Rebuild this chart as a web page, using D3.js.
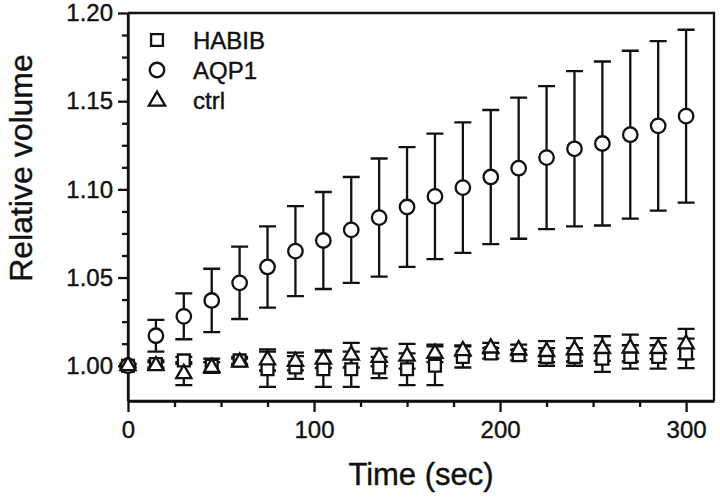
<!DOCTYPE html>
<html>
<head>
<meta charset="utf-8">
<script src="https://cdn.jsdelivr.net/npm/d3@7"></script>
<style>
  html, body { margin: 0; padding: 0; background: #fff; }
  svg { display: block; }
  text { font-family: "Liberation Sans", Arial, Helvetica, sans-serif; fill: #111; stroke: #111; stroke-width: 0.4px; }
</style>
</head>
<body>
<svg id="chart" width="720" height="498"></svg>
<script>
// ---- data ----
const time = [0, 15, 30, 45, 60, 75, 90, 105, 120, 135, 150, 165, 180, 195, 210, 225, 240, 255, 270, 285, 300];

const aqp1    = [1.000, 1.017, 1.028, 1.037, 1.047, 1.056, 1.065, 1.071, 1.077, 1.084, 1.090, 1.096, 1.101, 1.107, 1.112, 1.118, 1.123, 1.126, 1.131, 1.136, 1.1415];
const aqp1Err = [0.000, 0.009, 0.013, 0.018, 0.0205, 0.023, 0.0255, 0.0275, 0.030, 0.0335, 0.034, 0.0356, 0.037, 0.038, 0.040, 0.0405, 0.044, 0.0465, 0.0476, 0.048, 0.049];

const habib    = [1.000, 1.001, 1.003, 1.000, 1.003, 0.998, 0.999, 0.998, 0.998, 0.999, 0.998, 1.000, 1.005, 1.007, 1.006, 1.005, 1.005, 1.004, 1.005, 1.005, 1.007];
const habibErr = [0.001, 0.002, 0.002, 0.004, 0.002, 0.010, 0.0065, 0.010, 0.010, 0.006, 0.009, 0.011, 0.006, 0.003, 0.003, 0.005, 0.005, 0.0075, 0.0066, 0.0066, 0.0084];

const ctrl    = [1.000, 1.000, 0.9955, 0.999, 1.002, 1.0033, 1.0024, 1.0037, 1.006, 1.0047, 1.0054, 1.007, 1.0085, 1.010, 1.009, 1.008, 1.009, 1.0097, 1.010, 1.0097, 1.0123];
const ctrlErr = [0.001, 0.002, 0.0065, 0.003, 0.002, 0.006, 0.005, 0.005, 0.007, 0.005, 0.007, 0.005, 0.003, 0.003, 0.003, 0.006, 0.0066, 0.007, 0.0076, 0.006, 0.0086];

const seriesNames = ["HABIB", "AQP1", "ctrl"];
const xMajorTicks = [0, 100, 200, 300];
const yMajorTicks = [1.00, 1.05, 1.10, 1.15, 1.20];
const xTitle = "Time (sec)";
const yTitle = "Relative volume";

// ---- layout ----
const svg = d3.select("#chart");
const pL = 128, pR = 714, pT = 13, pB = 401;

const x = d3.scaleLinear().domain([0, 315]).range([pL, pR]);
const y = d3.scaleLinear().domain([0.98, 1.20]).range([pB, pT]);

const xMinor = d3.range(0, 301, 25).filter(v => v % 100 !== 0);
const yMinor = d3.range(0, 17).map(i => 1.00 + i * 0.0125).filter((v, i) => i % 4 !== 0);

const fontLabel = "24px";
const lw = 2.3;

// frame (top + right)
svg.append("path")
  .attr("d", `M${pL},${pT}H${pR}V${pB}`)
  .attr("fill", "none").attr("stroke", "#111").attr("stroke-width", lw);

// y axis
const gy = svg.append("g").attr("transform", `translate(${pL},0)`)
  .call(d3.axisLeft(y).tickValues(yMajorTicks).tickFormat(d3.format(".2f")).tickSize(10).tickSizeOuter(0).tickPadding(5));
const gyMinor = svg.append("g").attr("transform", `translate(${pL},0)`)
  .call(d3.axisLeft(y).tickValues(yMinor).tickFormat("").tickSize(6).tickSizeOuter(0));

// x axis
const gx = svg.append("g").attr("transform", `translate(0,${pB})`)
  .call(d3.axisBottom(x).tickValues(xMajorTicks).tickFormat(d3.format("d")).tickSize(11).tickSizeOuter(0).tickPadding(9));
const gxMinor = svg.append("g").attr("transform", `translate(0,${pB})`)
  .call(d3.axisBottom(x).tickValues(xMinor).tickFormat("").tickSize(6).tickSizeOuter(0));

[gy, gyMinor, gx, gxMinor].forEach(g => {
  g.select(".domain").attr("stroke", "#111").attr("stroke-width", lw);
  g.selectAll(".tick line").attr("stroke", "#111").attr("stroke-width", lw);
  g.selectAll(".tick text").attr("font-size", fontLabel).attr("fill", "#111")
    .attr("font-family", '"Liberation Sans", Arial, sans-serif');
});
gy.select(".domain").attr("d", `M0,${pB}V${pT}`);
gx.select(".domain").attr("d", `M${pL},0H${pR}`);

// titles
svg.append("text")
  .attr("x", (pL + pR) / 2).attr("y", 485)
  .attr("text-anchor", "middle").attr("font-size", "31px")
  .text(xTitle);
svg.append("text")
  .attr("transform", "translate(32,168) rotate(-90)")
  .attr("text-anchor", "middle").attr("font-size", "32px")
  .text(yTitle);

// ---- data marks ----
const series = [
  { name: seriesNames[0], vals: habib, errs: habibErr, sym: d3.symbolSquare, size: 140 },
  { name: seriesNames[1], vals: aqp1, errs: aqp1Err, sym: d3.symbolCircle, size: 165 },
  { name: seriesNames[2], vals: ctrl, errs: ctrlErr, sym: d3.symbolTriangle, size: 100 }
];

const capW = 8.5;
const gErr = svg.append("g").attr("stroke", "#111").attr("stroke-width", lw).attr("fill", "none");
series.forEach(s => {
  time.forEach((t, i) => {
    const e = s.errs[i];
    if (!e) return;
    const cx = x(t), y1 = y(s.vals[i] + e), y0 = y(s.vals[i] - e);
    gErr.append("path")
      .attr("d", `M${cx},${y0}V${y1}M${cx - capW},${y1}H${cx + capW}M${cx - capW},${y0}H${cx + capW}`);
  });
});

series.forEach(s => {
  const g = svg.append("g");
  g.selectAll("path").data(time.map((t, i) => [t, s.vals[i]])).join("path")
    .attr("transform", d => `translate(${x(d[0])},${y(d[1])})`)
    .attr("d", d3.symbol(s.sym, s.size)())
    .attr("fill", "#fff").attr("stroke", "#111").attr("stroke-width", lw);
});

// ---- legend ----
const lg = svg.append("g");
series.forEach((s, i) => {
  const cy = 40 + i * 30;
  lg.append("path")
    .attr("transform", `translate(157,${cy + (s.sym === d3.symbolTriangle ? 1 : 0)})`)
    .attr("d", d3.symbol(s.sym, s.sym === d3.symbolTriangle ? 115 : s.size)())
    .attr("fill", "#fff").attr("stroke", "#111").attr("stroke-width", lw);
  lg.append("text")
    .attr("x", 193).attr("y", cy + 8.5)
    .attr("font-size", fontLabel)
    .text(s.name);
});
</script>
</body>
</html>
